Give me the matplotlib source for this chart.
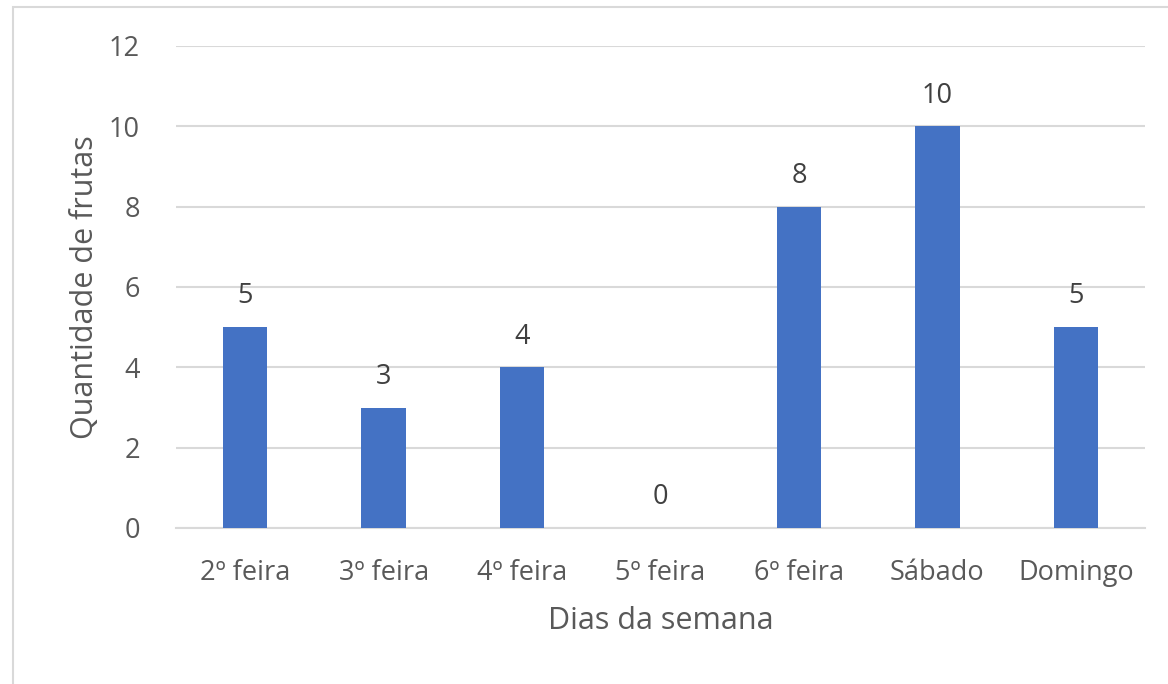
import matplotlib
matplotlib.use("Agg")
import matplotlib.pyplot as plt
from matplotlib.patches import Rectangle

categories = ["2º feira", "3º feira", "4º feira", "5º feira", "6º feira", "Sábado", "Domingo"]
values = [5, 3, 4, 0, 8, 10, 5]
yticks = [0, 2, 4, 6, 8, 10, 12]

plt.rcParams['font.family'] = ['Open Sans', 'DejaVu Sans']
text_color = '#595959'

W, H = 1168, 684
fig = plt.figure(figsize=(W/100, H/100), dpi=100)
fig.patches.append(Rectangle((13/W, -0.5), 1.5, 1.5 - 7/H, transform=fig.transFigure,
                             fill=False, edgecolor='#d9d9d9', linewidth=1.5))
ax = fig.add_axes([176/W, 1 - 528/H, (1145-176)/W, (528-46)/H])

x = range(len(categories))
bars = ax.bar(x, values, width=0.32, color='#4472C4', zorder=3)
for xi, v in zip(x, values):
    ax.annotate(str(v), (xi, v), xytext=(0, 12), textcoords='offset points',
                ha='center', va='bottom', fontsize=19.5, color='#404040')

ax.set_xlim(-0.5, len(categories) - 0.5)
ax.set_ylim(0, 12)
ax.set_yticks(yticks)
ax.set_xticks(list(x))
ax.set_xticklabels(categories)
ax.grid(axis='y', color='#d9d9d9', linewidth=1.5, zorder=0)
for s in ['top', 'right', 'left']:
    ax.spines[s].set_visible(False)
ax.spines['bottom'].set_color('#d9d9d9')
ax.spines['bottom'].set_linewidth(1.5)
ax.tick_params(axis='both', length=0, labelsize=19.5, labelcolor=text_color)
ax.tick_params(axis='x', pad=22)
ax.tick_params(axis='y', pad=26)
ax.set_xlabel("Dias da semana", fontsize=22, color=text_color, labelpad=14)
ax.set_ylabel("Quantidade de frutas", fontsize=22, color=text_color, labelpad=6)

fig.savefig("out.png", dpi=100)
